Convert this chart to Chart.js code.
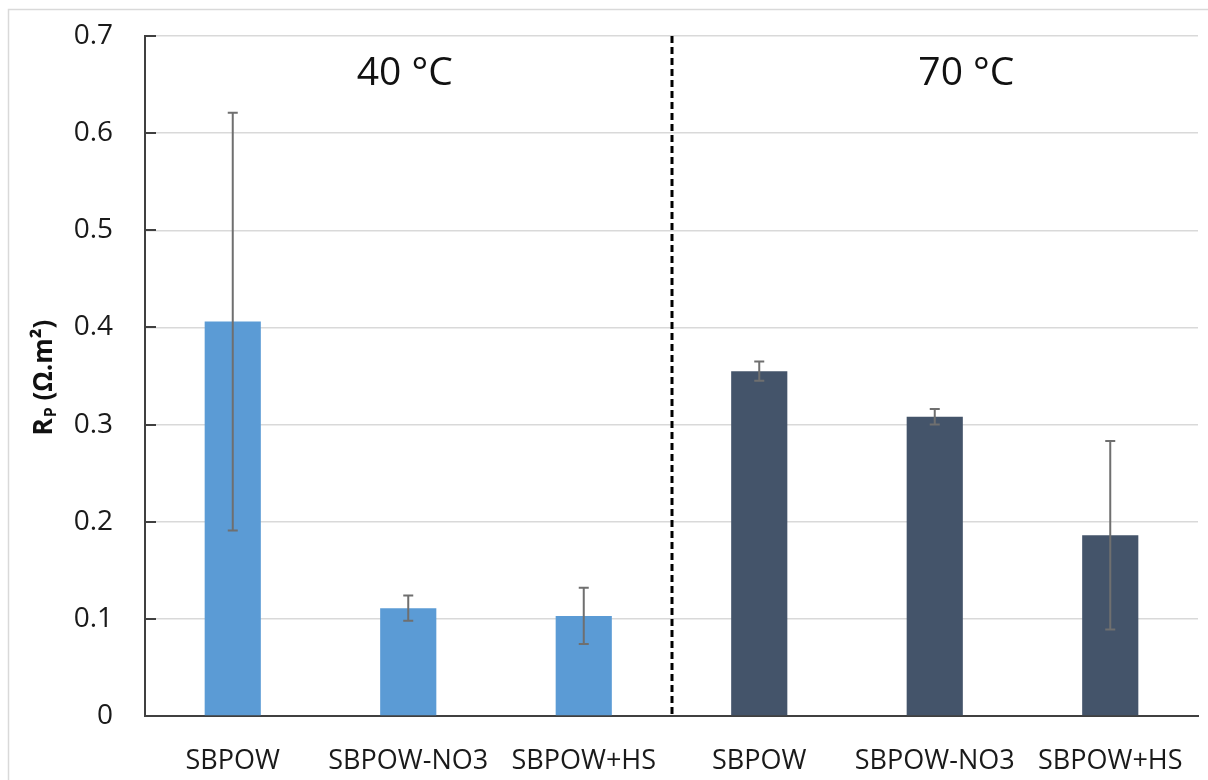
<!DOCTYPE html>
<html>
<head>
<meta charset="utf-8">
<script src="https://cdn.jsdelivr.net/npm/chart.js@4"></script>
<style>
  html, body { margin: 0; padding: 0; background: #fff; }
  canvas { display: block; }
</style>
</head>
<body>
<canvas id="rp-chart" width="1208" height="780"></canvas>
<script>
// data
const categories = ['SBPOW', 'SBPOW-NO3', 'SBPOW+HS', 'SBPOW', 'SBPOW-NO3', 'SBPOW+HS'];
const groupLabels = ['40 °C', '70 °C'];
const rp40 = [0.406, 0.111, 0.103];
const rp70 = [0.355, 0.308, 0.186];
const err40 = [0.215, 0.013, 0.029];
const err70 = [0.010, 0.008, 0.097];
const yTickLabels = ['0', '0.1', '0.2', '0.3', '0.4', '0.5', '0.6', '0.7'];

const color40 = '#5B9BD5';
const color70 = '#44546A';
const axisColor = '#404040';
const fontFamily = "'Open Sans', 'DejaVu Sans', sans-serif";

const values = rp40.concat(rp70);
const errors = err40.concat(err70);
const barColors = rp40.map(() => color40).concat(rp70.map(() => color70));

// white page, thin frame, inner tick marks, error bars, divider, group titles
const extras = {
  id: 'extras',
  beforeDraw(chart) {
    const ctx = chart.ctx;
    ctx.save();
    ctx.fillStyle = '#fff';
    ctx.fillRect(0, 0, chart.width, chart.height);
    ctx.strokeStyle = '#d9d9d9';
    ctx.lineWidth = 1.5;
    ctx.strokeRect(8.5, 9.5, chart.width + 20, chart.height + 20);
    ctx.restore();
  },
  afterDatasetsDraw(chart) {
    const ctx = chart.ctx;
    const x = chart.scales.x;
    const y = chart.scales.y;
    const area = chart.chartArea;
    const meta = chart.getDatasetMeta(0);

    ctx.save();
    // tick marks pointing into the plot
    ctx.strokeStyle = axisColor;
    ctx.lineWidth = 2;
    y.ticks.forEach((t) => {
      const py = Math.round(y.getPixelForValue(t.value));
      ctx.beginPath();
      ctx.moveTo(area.left, py);
      ctx.lineTo(area.left + 11, py);
      ctx.stroke();
    });

    // error bars
    ctx.strokeStyle = '#6f6f6f';
    ctx.lineWidth = 2;
    meta.data.forEach((bar, i) => {
      const top = y.getPixelForValue(values[i] + errors[i]);
      const bot = y.getPixelForValue(values[i] - errors[i]);
      ctx.beginPath();
      ctx.moveTo(bar.x, top);
      ctx.lineTo(bar.x, bot);
      ctx.moveTo(bar.x - 5, top);
      ctx.lineTo(bar.x + 5, top);
      ctx.moveTo(bar.x - 5, bot);
      ctx.lineTo(bar.x + 5, bot);
      ctx.stroke();
    });

    // dashed divider between the two temperatures
    const divX = Math.round(x.getPixelForValue(rp40.length - 0.5));
    ctx.strokeStyle = '#000';
    ctx.lineWidth = 3;
    ctx.setLineDash([7, 4]);
    ctx.beginPath();
    ctx.moveTo(divX, area.top);
    ctx.lineTo(divX, area.bottom);
    ctx.stroke();
    ctx.setLineDash([]);

    // group titles
    ctx.fillStyle = '#111';
    ctx.font = '39px ' + fontFamily;
    ctx.textAlign = 'center';
    ctx.textBaseline = 'middle';
    ctx.fillText(groupLabels[0], x.getPixelForValue(0.98), area.top + 38);
    ctx.fillText(groupLabels[1], x.getPixelForValue(4.18), area.top + 38);

    // y axis title: R with subscript p
    ctx.translate(45, 378);
    ctx.rotate(-Math.PI / 2);
    ctx.textAlign = 'left';
    ctx.textBaseline = 'middle';
    const big = 'bold 26px ' + fontFamily;
    const small = 'bold 16px ' + fontFamily;
    const rest = ' (Ω.m²)';
    ctx.font = big;
    const wR = ctx.measureText('R').width;
    const wRest = ctx.measureText(rest).width;
    ctx.font = small;
    const wP = ctx.measureText('P').width;
    let cx = -(wR + wP + wRest) / 2;
    ctx.font = big;
    ctx.fillText('R', cx, 0);
    cx += wR;
    ctx.font = small;
    ctx.fillText('P', cx + 1, 6);
    cx += wP + 1;
    ctx.font = big;
    ctx.fillText(rest, cx, 0);
    ctx.restore();
  }
};

const ctx = document.getElementById('rp-chart').getContext('2d');
const rpChart = new Chart(ctx, {
  type: 'bar',
  data: {
    labels: categories,
    datasets: [{
      data: values,
      backgroundColor: barColors,
      borderWidth: 0,
      barPercentage: 1,
      categoryPercentage: 0.32
    }]
  },
  options: {
    responsive: false,
    animation: false,
    devicePixelRatio: 1,
    layout: { padding: { left: 0, right: 10, top: 36, bottom: 0 } },
    plugins: {
      legend: { display: false },
      tooltip: { enabled: false },
      title: { display: false }
    },
    scales: {
      x: {
        grid: { display: false, drawTicks: false },
        border: { color: axisColor, width: 2 },
        ticks: {
          color: '#1a1a1a',
          font: { family: fontFamily, size: 27 },
          padding: 29,
          maxRotation: 0,
          autoSkip: false
        },
        afterFit(scale) {
          scale.height = 64;
          scale.paddingLeft = 0;
          scale.paddingRight = 0;
        }
      },
      y: {
        min: 0,
        max: 0.7,
        grid: { color: '#d9d9d9', lineWidth: 1.5, drawTicks: false },
        border: { color: axisColor, width: 2 },
        ticks: {
          stepSize: 0.1,
          color: '#1a1a1a',
          font: { family: fontFamily, size: 28 },
          padding: 32,
          callback: (v, i) => yTickLabels[i]
        },
        afterFit(scale) {
          scale.width = 145;
          scale.paddingTop = 0;
          scale.paddingBottom = 0;
        }
      }
    }
  },
  plugins: [extras]
});
</script>
</body>
</html>
